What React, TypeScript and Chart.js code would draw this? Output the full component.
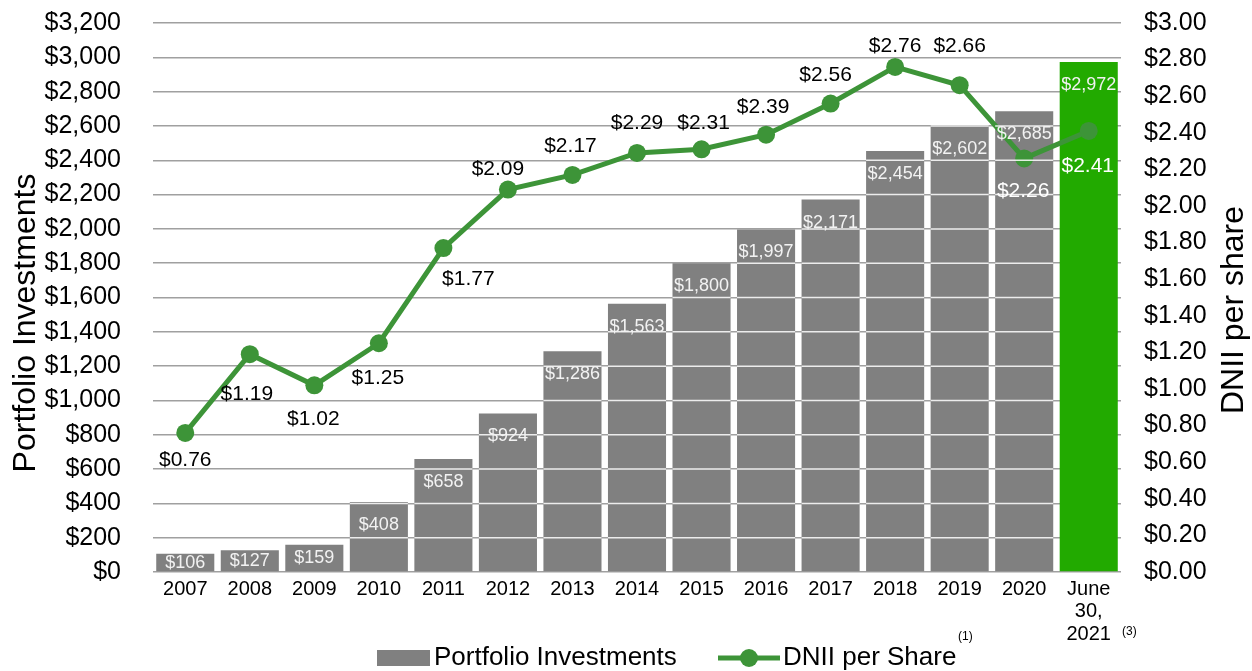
import React, { useEffect, useRef } from 'react';
import { Chart, registerables } from 'chart.js';

Chart.register(...registerables);

const categories: (string | string[])[] = [
  '2007', '2008', '2009', '2010', '2011', '2012', '2013', '2014',
  '2015', '2016', '2017', '2018', '2019', '2020', ['June', '30,', '2021'],
];
const portfolioInvestments = [106, 127, 159, 408, 658, 924, 1286, 1563, 1800, 1997, 2171, 2454, 2602, 2685, 2972];
const dniiPerShare = [0.76, 1.19, 1.02, 1.25, 1.77, 2.09, 2.17, 2.29, 2.31, 2.39, 2.56, 2.76, 2.66, 2.26, 2.41];
const barColors = [
  '#808080', '#808080', '#808080', '#808080', '#808080', '#808080', '#808080', '#808080',
  '#808080', '#808080', '#808080', '#808080', '#808080', '#808080', '#22aa00',
];
const dniiLabelColors = [
  '#000', '#000', '#000', '#000', '#000', '#000', '#000', '#000',
  '#000', '#000', '#000', '#000', '#000', '#ffffff', '#ffffff',
];
// label offsets relative to the point (style, not data)
const dniiLabelDx = [0, -3, -1, -1, 25, -10, -2, 0, 2, -3, -5, 0, 0, -1, -1];
const dniiLabelDy = [27, 40, 34, 35, 31, -20, -29, -30, -26, -27, -28, -21, -39, 33, 35];

const FONT = '"Liberation Sans", Arial, Helvetica, sans-serif';
const GREEN = '#3d9438';

const fmtMoney = (v: number) => '$' + Math.round(v).toLocaleString('en-US');

const overlayPlugin = {
  id: 'overlay',
  afterDatasetsDraw(chart: any) {
    const ctx = chart.ctx;
    ctx.save();
    const yScale = chart.scales.y;
    const barMeta = chart.getDatasetMeta(0);
    // faint white gridlines crossing the gray bars
    ctx.strokeStyle = 'rgba(255,255,255,0.85)';
    ctx.lineWidth = 1.5;
    barMeta.data.forEach((bar: any, i: number) => {
      if (i === barMeta.data.length - 1) return;
      const val = portfolioInvestments[i];
      yScale.ticks.forEach((t: any) => {
        if (t.value > 0 && t.value < val) {
          const y = yScale.getPixelForValue(t.value);
          ctx.beginPath();
          ctx.moveTo(bar.x - bar.width / 2, y);
          ctx.lineTo(bar.x + bar.width / 2, y);
          ctx.stroke();
        }
      });
    });
    // bar labels
    ctx.font = `18px ${FONT}`;
    ctx.textAlign = 'center';
    ctx.textBaseline = 'middle';
    ctx.fillStyle = '#f2f2f2';
    barMeta.data.forEach((bar: any, i: number) => {
      const h = bar.base - bar.y;
      const cy = h < 46 ? bar.y + h / 2 : bar.y + 23;
      ctx.fillText(fmtMoney(portfolioInvestments[i]), bar.x, cy);
    });
    ctx.restore();
  },
  afterDraw(chart: any) {
    const ctx = chart.ctx;
    ctx.save();
    // line labels
    const lineMeta = chart.getDatasetMeta(1);
    ctx.font = `21px ${FONT}`;
    ctx.textAlign = 'center';
    ctx.textBaseline = 'middle';
    lineMeta.data.forEach((pt: any, i: number) => {
      ctx.fillStyle = dniiLabelColors[i];
      ctx.fillText('$' + dniiPerShare[i].toFixed(2), pt.x + dniiLabelDx[i], pt.y + dniiLabelDy[i]);
    });

    // axis titles
    ctx.fillStyle = '#000';
    ctx.font = `32px ${FONT}`;
    ctx.save();
    ctx.translate(26, 323);
    ctx.rotate(-Math.PI / 2);
    ctx.fillText('Portfolio Investments', 0, 0);
    ctx.restore();
    ctx.save();
    ctx.translate(1234, 310);
    ctx.rotate(-Math.PI / 2);
    ctx.fillText('DNII per share', 0, 0);
    ctx.restore();

    // superscript for last category
    ctx.font = `12px ${FONT}`;
    ctx.textAlign = 'left';
    ctx.fillText('(3)', 1122, 632);

    // legend
    const ly = 658;
    ctx.fillStyle = '#808080';
    ctx.fillRect(377, 650, 53, 16);
    ctx.fillStyle = '#000';
    ctx.font = `26px ${FONT}`;
    ctx.textAlign = 'left';
    ctx.fillText('Portfolio Investments', 434, ly);
    ctx.strokeStyle = GREEN;
    ctx.lineWidth = 5;
    ctx.beginPath();
    ctx.moveTo(718, ly);
    ctx.lineTo(780, ly);
    ctx.stroke();
    ctx.fillStyle = GREEN;
    ctx.beginPath();
    ctx.arc(749, ly, 9, 0, Math.PI * 2);
    ctx.fill();
    ctx.fillStyle = '#000';
    ctx.fillText('DNII per Share', 783, ly);
    ctx.font = `12px ${FONT}`;
    ctx.fillText('(1)', 958, 637);
    ctx.restore();
  },
};

export default function App() {
  const canvasRef = useRef<HTMLCanvasElement>(null);

  useEffect(() => {
    if (!canvasRef.current) return;
    const chart = new Chart(canvasRef.current, {
      type: 'bar',
      data: {
        labels: categories as any,
        datasets: [
          {
            type: 'bar',
            label: 'Portfolio Investments',
            data: portfolioInvestments,
            yAxisID: 'y',
            backgroundColor: barColors,
            barPercentage: 0.9,
            categoryPercentage: 1,
            order: 1,
          } as any,
          {
            type: 'line',
            label: 'DNII per Share',
            data: dniiPerShare,
            yAxisID: 'y1',
            borderColor: GREEN,
            backgroundColor: GREEN,
            borderWidth: 5,
            pointRadius: 9,
            pointBackgroundColor: GREEN,
            pointBorderWidth: 0,
            order: 0,
          } as any,
        ],
      },
      options: {
        responsive: false,
        animation: false,
        devicePixelRatio: 1,
        layout: { padding: { top: 23, left: 0, right: 0, bottom: 0 } },
        plugins: {
          legend: { display: false },
          tooltip: { enabled: false },
        },
        scales: {
          x: {
            grid: { display: false, drawTicks: false },
            border: { display: false },
            ticks: {
              color: '#000',
              font: { family: FONT, size: 20, lineHeight: 1.13 },
              padding: 6,
              maxRotation: 0,
              autoSkip: false,
            },
            afterFit: (scale: any) => { scale.height = 99; },
          },
          y: {
            position: 'left',
            min: 0,
            max: 3200,
            grid: { color: '#a0a0a0', lineWidth: 1.5, drawTicks: false },
            border: { display: false },
            ticks: {
              stepSize: 200,
              autoSkip: false,
              color: '#000',
              font: { family: FONT, size: 25 },
              padding: 32,
              callback: (v: any) => fmtMoney(Number(v)),
            },
            afterFit: (scale: any) => {
              scale.width = 153;
              scale.paddingTop = 0;
              scale.paddingBottom = 0;
            },
          },
          y1: {
            position: 'right',
            min: 0,
            max: 3,
            grid: { display: false, drawTicks: false },
            border: { display: false },
            ticks: {
              stepSize: 0.2,
              autoSkip: false,
              color: '#000',
              font: { family: FONT, size: 25 },
              padding: 23,
              callback: (v: any) => '$' + Number(v).toFixed(2),
            },
            afterFit: (scale: any) => {
              scale.width = 131;
              scale.paddingTop = 0;
              scale.paddingBottom = 0;
            },
          },
        },
      } as any,
      plugins: [overlayPlugin],
    });
    return () => chart.destroy();
  }, []);

  return (
    <div style={{ position: 'fixed', left: 0, top: 0, width: 1252, height: 671, background: '#fff' }}>
      <canvas ref={canvasRef} width={1252} height={671} style={{ display: 'block' }} />
    </div>
  );
}
